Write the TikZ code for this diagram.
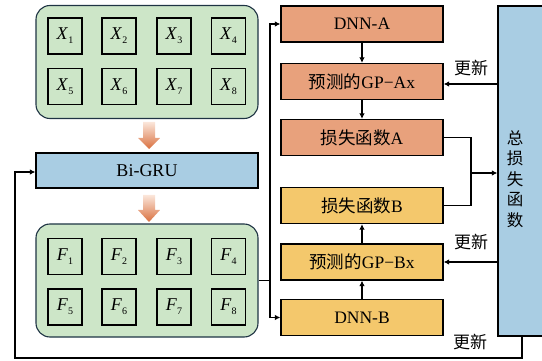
\documentclass[tikz,border=0pt]{standalone}
\usepackage{fontspec}
\setmainfont{Liberation Serif}
\newfontfamily\cjk{Noto Sans CJK SC}
\usetikzlibrary{arrows.meta}
\definecolor{grpgreen}{HTML}{CDE6C8}
\definecolor{grpborder}{HTML}{1F3444}
\definecolor{grublue}{HTML}{A9CDE3}
\definecolor{boxorange}{HTML}{E8A17C}
\definecolor{boxyellow}{HTML}{F4C86C}
\definecolor{arrtop}{HTML}{FBE6DA}
\definecolor{arrbot}{HTML}{D9703F}
\tikzset{
  grp/.style={draw=grpborder, line width=1.1pt, fill=grpgreen, rounded corners=14pt, minimum width=222pt, minimum height=113pt, inner sep=0pt},
  cell/.style={draw=black, line width=1.3pt, minimum width=34pt, minimum height=36pt, inner sep=0pt, font=\fontsize{18}{18}\selectfont},
  rbox/.style={draw=black, line width=1.2pt, minimum width=162pt, minimum height=36pt, inner sep=0pt, font=\fontsize{17.5}{17.5}\selectfont},
  abox/.style={rbox, fill=boxorange},
  bbox/.style={rbox, fill=boxyellow},
  conn/.style={line width=1.2pt, -{Latex[length=5.5pt,width=5.5pt]}},
  plainline/.style={line width=1.2pt},
  lbl/.style={font=\cjk\fontsize{17}{17}\selectfont, inner sep=0pt},
}
\newcommand{\xsym}[2]{\textit{#1}\raisebox{-4pt}{\fontsize{10}{10}\selectfont #2}}
\begin{document}
\begin{tikzpicture}[x=1pt,y=-1pt]
\useasboundingbox (0,0) rectangle (542,361);
% X group
\node[grp] (gx) at (147,62) {};
\foreach \i/\x in {1/65,2/119,3/174,4/228.5}{
  \node[cell] (x\i) at (\x,36) {\xsym{X}{\i}};
}
\foreach \i/\x in {5/65,6/119,7/174,8/228.5}{
  \node[cell] (x\i) at (\x,86.5) {\xsym{X}{\i}};
}
% fat arrows
\shade[top color=arrtop, bottom color=arrbot] (143,122) -- (155,122) -- (155,138) -- (160,138) -- (149,149) -- (138,138) -- (143,138) -- cycle;
\shade[top color=arrtop, bottom color=arrbot] (143,195) -- (155,195) -- (155,210) -- (160,210) -- (149,222) -- (138,210) -- (143,210) -- cycle;
% Bi-GRU
\node[draw=black, line width=1.2pt, fill=grublue, minimum width=222pt, minimum height=35pt, inner sep=0pt, font=\fontsize{18}{18}\selectfont] (gru) at (147,170.5) {Bi-GRU};
% F group
\node[grp] (gf) at (147,280.5) {};
\foreach \i/\x in {1/65,2/119,3/174,4/228.5}{
  \node[cell] (f\i) at (\x,256.5) {\xsym{F}{\i}};
}
\foreach \i/\x in {5/65,6/119,7/174,8/228.5}{
  \node[cell] (f\i) at (\x,307) {\xsym{F}{\i}};
}
% right boxes
\node[abox] (dnna) at (362,24) {DNN-A};
\node[abox] (gpa) at (362,81.5) {{\cjk 预测的}GP−Ax};
\node[abox] (lossa) at (362,137.5) {{\cjk 损失函数}A};
\node[bbox] (lossb) at (362,205.5) {{\cjk 损失函数}B};
\node[bbox] (gpb) at (362,262) {{\cjk 预测的}GP−Bx};
\node[bbox] (dnnb) at (362,317.5) {DNN-B};
% total loss
\node[draw=black, line width=1.2pt, fill=grublue, minimum width=50pt, minimum height=330pt, inner sep=0pt] (tot) at (523,171) {};
\node[font=\cjk\fontsize{16.5}{20.5}\selectfont, align=center, inner sep=0pt] (totl) at (515,179) {总\\损\\失\\函\\数};
% connectors
\coordinate (split) at (270,280.5);
\coordinate (vtop) at (270,24);
\coordinate (vbot) at (270,317.5);
\draw[plainline] (gf.east) -- (split);
\draw[conn] (split) -- (vtop) -- (dnna.west);
\draw[conn] (split) -- (vbot) -- (dnnb.west);
\draw[conn] (dnna) -- (gpa);
\draw[conn] (gpa) -- (lossa);
\draw[conn] (dnnb) -- (gpb);
\draw[conn] (gpb) -- (lossb);
\draw[conn] (tot.west |- 0,84) -- (gpa.east |- 0,84);
\draw[conn] (tot.west |- gpb.east) -- (gpb.east);
\coordinate (ja) at (471,137.5);
\coordinate (jb) at (471,205.5);
\coordinate (jm) at (471,173);
\draw[plainline] (lossa.east) -- (ja) -- (jb) -- (lossb.east);
\draw[conn] (jm) -- (tot.west |- jm);
\coordinate (fb1) at (522,358);
\coordinate (fb2) at (15,358);
\coordinate (fb3) at (15,172);
\draw[conn] (tot.south -| fb1) -- (fb1) -- (fb2) -- (fb3) -- (gru.west |- fb3);
% labels
\node[lbl] (u1) at (471,68) {更新};
\node[lbl] (u2) at (471,242) {更新};
\node[lbl] (u3) at (470,342) {更新};
\end{tikzpicture}
\end{document}
